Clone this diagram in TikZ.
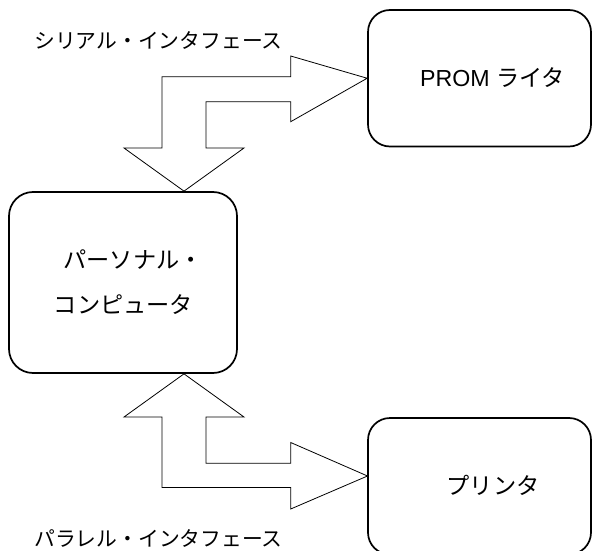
\documentclass[tikz,border=0pt]{standalone}
\usepackage{fontspec}
\setmainfont{Liberation Sans}
\newfontfamily\jp{Noto Sans CJK JP}
\begin{document}
\begin{tikzpicture}[x=1pt,y=-1pt,
  box/.style={draw,line width=1.7pt,rounded corners=22pt,minimum width=223pt,minimum height=136.5pt,inner sep=0pt},
  pcbox/.style={draw,line width=1.7pt,rounded corners=24pt,minimum width=228pt,minimum height=181pt,inner sep=0pt},
  bigarrow/.style={draw,line width=0.8pt,fill=white,line join=miter},
  boxtext/.style={inner sep=0pt,font=\fontsize{23.2}{28}\selectfont},
  labeltext/.style={inner sep=0pt,font=\jp\fontsize{20.8}{25}\selectfont}]
\useasboundingbox (0,0) rectangle (592,551);
% boxes
\node[box] (prom) at (479.5,78.25) {};
\node[box] (printer) at (479.5,486.25) {};
\node[pcbox] (pc) at (123,282.5) {};
% texts
\node[boxtext] (promtext) at (492.5,78) {PROM {\jp ライタ}};
\node[boxtext] (printertext) at (493,485) {\jp プリンタ};
\node[boxtext] (pctext1) at (133,260) {\jp パーソナル・};
\node[boxtext] (pctext2) at (123.5,305) {\jp コンピュータ};
\node[labeltext] (seriallabel) at (158.5,40) {シリアル・インタフェース};
\node[labeltext] (parallellabel) at (158.5,538) {パラレル・インタフェース};
% arrow tips on the boxes
\coordinate (t1) at (prom.west);
\coordinate (t2) at ([xshift=61pt]pc.north);
\coordinate (t3) at ([xshift=61pt]pc.south);
\coordinate (t4) at (367.5,476);
% serial interface arrow
\draw[bigarrow] (t1) -- (290.7,56) -- (290.7,76.7) -- (162,76.7) -- (162,148)
  -- (124,148) -- (t2) -- (244,148) -- (206,148) -- (206,101.7) -- (290.7,101.7)
  -- (290.7,121.7) -- cycle;
% parallel interface arrow
\draw[bigarrow] (t3) -- (244,417) -- (206,417) -- (206,463.3) -- (290.7,463.3)
  -- (290.7,442.5) -- (t4) -- (290.7,509) -- (290.7,487.5) -- (162,487.5)
  -- (162,417) -- (124,417) -- cycle;
\end{tikzpicture}
\end{document}
